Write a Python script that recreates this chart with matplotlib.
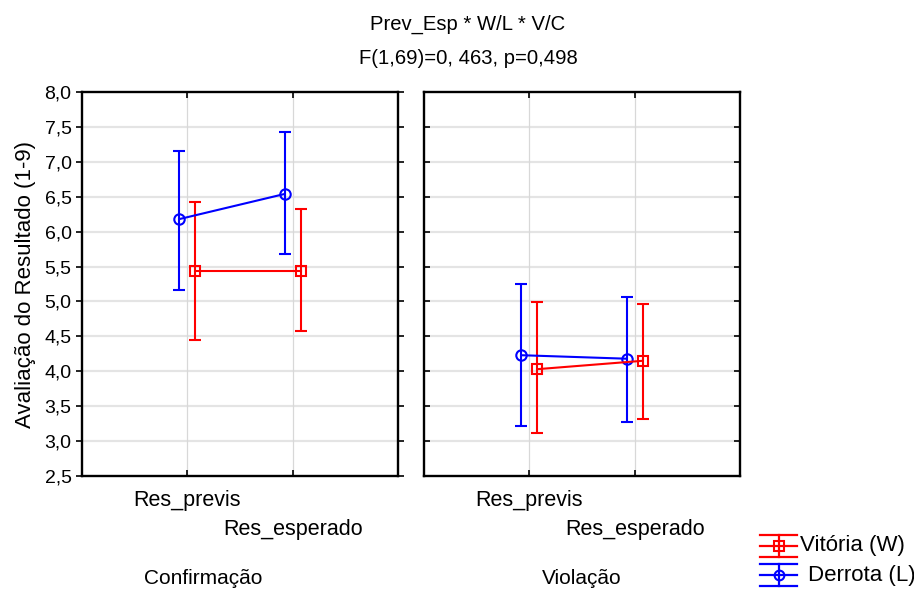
import matplotlib
matplotlib.use("Agg")
import matplotlib.pyplot as plt
from matplotlib.lines import Line2D
import numpy as np

plt.rcParams["font.family"] = ["Liberation Sans", "DejaVu Sans"]

categories = ["Res_previs", "Res_esperado"]
panels = ["Confirmação", "Violação"]
series = ["Vitória (W)", "Derrota (L)"]

# means and confidence limits, per panel [Res_previs, Res_esperado]
win_mean = [[5.44, 5.44], [4.03, 4.15]]
win_low = [[4.45, 4.57], [3.11, 3.32]]
win_high = [[6.43, 6.32], [4.99, 4.97]]
loss_mean = [[6.18, 6.54], [4.23, 4.18]]
loss_low = [[5.17, 5.68], [3.21, 3.27]]
loss_high = [[7.16, 7.42], [5.25, 5.06]]

yticks = np.arange(2.5, 8.01, 0.5)
ytick_labels = [f"{v:.1f}".replace(".", ",") for v in yticks]

W, H = 914, 590
fig = plt.figure(figsize=(W / 100, H / 100), dpi=100)


def px_axes(x0, x1, y0, y1):
    return fig.add_axes([x0 / W, 1 - y1 / H, (x1 - x0) / W, (y1 - y0) / H])


red = "#ff0000"
blue = "#0000ff"
offset = 0.075
xs = np.array([1, 2])

axes = [px_axes(82, 398, 92, 476), px_axes(424, 740, 92, 476)]
for pi, ax in enumerate(axes):
    ax.set_xlim(0, 3)
    ax.set_ylim(2.5, 8.0)
    ax.set_yticks(yticks)
    ax.set_xticks(xs)
    ax.set_xticklabels([])
    for y in yticks[1:-1]:
        ax.axhline(y, color="#e4e4e4", lw=1.6, zorder=0)
    for x in xs:
        ax.axvline(x, color="#d8d8d8", lw=0.9, zorder=0)
    for s in ax.spines.values():
        s.set_linewidth(1.7)

    for mean, lo, hi, col, mk, dx in [
        (loss_mean[pi], loss_low[pi], loss_high[pi], blue, "o", -offset),
        (win_mean[pi], win_low[pi], win_high[pi], red, "s", offset),
    ]:
        mean = np.array(mean)
        yerr = [mean - np.array(lo), np.array(hi) - mean]
        ax.errorbar(xs + dx, mean, yerr=yerr, color=col, lw=1.5, elinewidth=1.5,
                    capsize=4, capthick=1.5, marker=mk, markersize=7.5 if mk == "o" else 7,
                    markerfacecolor="none", markeredgewidth=1.5, zorder=3)

    if pi == 0:
        ax.set_yticklabels(ytick_labels, fontsize=14)
        ax.tick_params(axis="y", direction="out", length=4, width=1.2)
        ax.tick_params(axis="y", right=True, which="both")
        ax.set_ylabel("Avaliação do Resultado (1-9)", fontsize=16, labelpad=6)
    else:
        ax.set_yticklabels([])
        ax.tick_params(axis="y", direction="in", length=4, width=1.2, left=True, right=True)
    ax.tick_params(axis="x", direction="in", length=4, width=1.2, top=True, bottom=True)

    # staggered category labels and panel label
    trans = ax.get_xaxis_transform()
    ax.text(xs[0], -0.063, categories[0], transform=trans, ha="center", va="center",
            fontsize=15.5)
    ax.text(xs[1], -0.14, categories[1], transform=trans, ha="center", va="center",
            fontsize=15.5)
    ax.text(1.15 if pi == 0 else 1.5, -0.268, panels[pi], transform=trans, ha="center",
            va="center", fontsize=15)

fig.text(468 / W, 1 - 24 / H, "Prev_Esp * W/L * V/C", ha="center", va="center",
         fontsize=14.6)
fig.text(468 / W, 1 - 59 / H, "F(1,69)=0, 463, p=0,498", ha="center", va="center",
         fontsize=14.6)

# legend drawn by hand to mimic the wide-cap error bar handles
for name, col, mk, yc, tx in [(series[0], red, "s", 546, 800), (series[1], blue, "o", 575, 808)]:
    x0, x1, xm = 760 / W, 797 / W, 779 / W
    for dy in (-11, 0, 11):
        fig.add_artist(Line2D([x0, x1], [1 - (yc + dy) / H] * 2, color=col, lw=1.6))
    fig.add_artist(Line2D([xm, xm], [1 - (yc - 11) / H, 1 - (yc + 11) / H], color=col, lw=1.6))
    fig.add_artist(Line2D([xm], [1 - yc / H], color=col, marker=mk, markersize=7,
                          markerfacecolor="none", markeredgewidth=1.5))
    fig.text(tx / W, 1 - yc / H, name, ha="left", va="center", fontsize=16)

fig.savefig("out.png", dpi=100)
